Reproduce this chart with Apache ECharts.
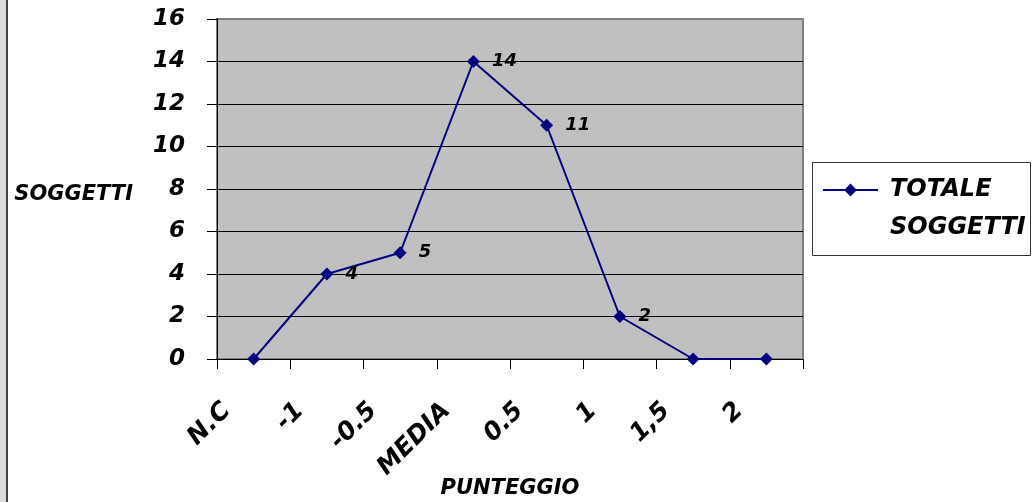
<!DOCTYPE html>
<html>
<head>
<meta charset="utf-8">
<script src="https://cdn.jsdelivr.net/npm/echarts@6/dist/echarts.min.js"></script>
<style>
  html, body { margin: 0; padding: 0; background: #fff; }
  #chart { width: 1033px; height: 502px; }
</style>
</head>
<body>
<div id="chart"></div>
<script>
// Distribuzione dei soggetti per punteggio
const categories = ['N.C', '-1', '-0.5', 'MEDIA', '0.5', '1', '1,5', '2'];
const totaleSoggetti = [0, 4, 5, 14, 11, 2, 0, 0];
const seriesName = 'TOTALE SOGGETTI';
const legendLines = ['TOTALE', 'SOGGETTI'];
const yAxisName = 'SOGGETTI';
const xAxisName = 'PUNTEGGIO';

const FONT = 'DejaVu Sans';
const txt = (size) => ({
  fontFamily: FONT, fontStyle: 'italic', fontWeight: 'bold', fontSize: size, color: '#000'
});

const chart = echarts.init(document.getElementById('chart'), null, { renderer: 'canvas' });

chart.setOption({
  backgroundColor: '#fff',
  animation: false,
  grid: {
    left: 217, right: 230, top: 19, bottom: 143,
    outerBoundsMode: 'none',
    containLabel: false,
    show: true, backgroundColor: '#c0c0c0', borderColor: '#808080', borderWidth: 2
  },
  graphic: [
    { type: 'rect', shape: { x: 0, y: 0, width: 6, height: 502 }, style: { fill: '#dcdcdc' }, silent: true },
    { type: 'rect', shape: { x: 6, y: 0, width: 2, height: 502 }, style: { fill: '#404040' }, silent: true },
    { type: 'rect', z: -1, shape: { x: 812.5, y: 162.5, width: 218, height: 93 },
      style: { fill: '#fff', stroke: '#333', lineWidth: 1 }, silent: true }
  ],
  legend: {
    left: 822, top: 133, padding: 0,
    itemWidth: 55, itemHeight: 16,
    // a blank first line keeps the icon level with the first line of text
    formatter: () => '\u00a0\n' + legendLines.join('\n'),
    textStyle: Object.assign(txt(24), { lineHeight: 38, padding: [0, 0, 0, 7] }),
    data: [seriesName]
  },
  xAxis: {
    type: 'category',
    data: categories,
    boundaryGap: true,
    name: xAxisName,
    nameLocation: 'middle',
    nameGap: 119,
    nameMoveOverlap: false,
    nameTextStyle: txt(21),
    axisLine: { lineStyle: { color: '#000', width: 1 } },
    axisTick: { show: true, length: 10, interval: 0, lineStyle: { color: '#000' } },
    axisLabel: Object.assign(txt(25), { rotate: 45, interval: 0, margin: 21, padding: [0, 38, 0, 0] }),
    splitLine: { show: false }
  },
  yAxis: {
    type: 'value',
    min: 0, max: 16, interval: 2,
    name: yAxisName,
    nameLocation: 'middle',
    nameRotate: 0,
    nameGap: 84,
    nameTextStyle: Object.assign(txt(21), { verticalAlign: 'top', lineHeight: 12 }),
    axisLine: { show: true, lineStyle: { color: '#000', width: 1 } },
    axisTick: { show: true, length: 10, lineStyle: { color: '#000' } },
    axisLabel: Object.assign(txt(23), { margin: 32 }),
    splitLine: { show: true, showMaxLine: false, lineStyle: { color: '#000', width: 1 } }
  },
  series: [{
    name: seriesName,
    type: 'line',
    data: totaleSoggetti,
    symbol: 'diamond',
    symbolSize: 13,
    lineStyle: { color: '#000080', width: 2 },
    itemStyle: { color: '#000080' },
    label: {
      show: true,
      position: 'right',
      distance: 12,
      formatter: (p) => (p.value ? String(p.value) : ''),
      ...txt(18)
    }
  }]
});
</script>
</body>
</html>
